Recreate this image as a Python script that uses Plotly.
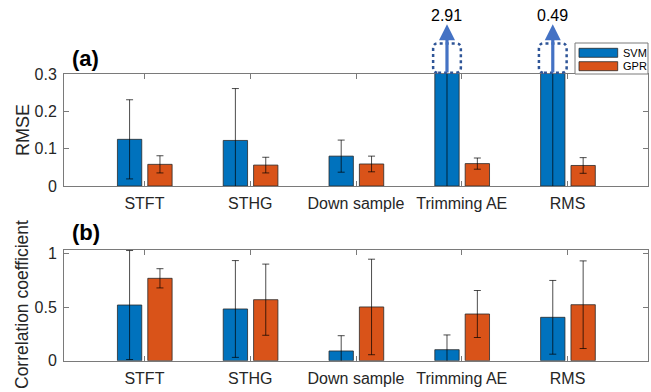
import plotly.graph_objects as go

categories = ["STFT", "STHG", "Down sample", "Trimming AE", "RMS"]
rmse_svm = [0.125, 0.122, 0.080, 2.91, 0.49]
rmse_svm_err = [0.106, 0.139, 0.043, 3.2, 0.6]
rmse_gpr = [0.058, 0.056, 0.059, 0.060, 0.055]
rmse_gpr_err = [0.023, 0.021, 0.021, 0.015, 0.021]
cc_svm = [0.521, 0.484, 0.091, 0.103, 0.406]
cc_svm_err = [0.51, 0.453, 0.143, 0.138, 0.345]
cc_gpr = [0.771, 0.571, 0.503, 0.437, 0.524]
cc_gpr_err = [0.09, 0.333, 0.447, 0.22, 0.41]
clipped_labels = ["2.91", "0.49"]
clipped_idx = [3, 4]

W, H = 651, 392
XR = [0.24, 5.76]
XD = [64 / W, 648 / W]
YD1 = [1 - 186 / H, 1 - 74 / H]
YD2 = [1 - 360.7 / H, 1 - 250 / H]
YR1 = [0, 0.3]
YR2 = [0, 1.036]

BLUE = "#0072BD"
ORANGE = "#D95319"
BW = 0.23
OFF_SVM = -0.255
OFF_GPR = 0.032
FONT = "Liberation Sans, Arial, sans-serif"

xs = list(range(1, len(categories) + 1))


def xp(v):
    return XD[0] + (v - XR[0]) / (XR[1] - XR[0]) * (XD[1] - XD[0])


def yp1(v):
    return YD1[0] + (v - YR1[0]) / (YR1[1] - YR1[0]) * (YD1[1] - YD1[0])


fig = go.Figure()


def add_bars(vals, errs, off, color, name, xa, ya):
    fig.add_trace(go.Bar(
        x=xs, y=vals, width=BW, offset=off, name=name,
        marker=dict(color=color, line=dict(color="#2a2a2a", width=0.8)),
        error_y=dict(type="data", array=errs, visible=True,
                     color="rgba(0,0,0,0.7)", thickness=1, width=3.5),
        xaxis=xa, yaxis=ya, showlegend=False,
    ))


add_bars(rmse_svm, rmse_svm_err, OFF_SVM, BLUE, "SVM", "x", "y")
add_bars(rmse_gpr, rmse_gpr_err, OFF_GPR, ORANGE, "GPR", "x", "y")
add_bars(cc_svm, cc_svm_err, OFF_SVM, BLUE, "SVM", "x2", "y2")
add_bars(cc_gpr, cc_gpr_err, OFF_GPR, ORANGE, "GPR", "x2", "y2")

axcommon = dict(showline=True, mirror="ticks", linecolor="#7a7a7a", linewidth=1,
                ticks="inside", ticklen=5, tickcolor="#7a7a7a", showgrid=False,
                zeroline=False, tickfont=dict(family=FONT, size=16, color="#262626"))

fig.update_layout(
    width=W, height=H, margin=dict(l=0, r=0, t=0, b=0),
    paper_bgcolor="white", plot_bgcolor="white", barmode="overlay",
    xaxis=dict(domain=XD, range=XR, tickvals=xs, ticktext=categories,
               anchor="y", ticklabelstandoff=3, automargin=False, **axcommon),
    yaxis=dict(domain=YD1, range=YR1, tickvals=[0, 0.1, 0.2, 0.3],
               ticktext=["0", "0.1", "0.2", "0.3"], anchor="x",
               ticklabelstandoff=3, automargin=False, **axcommon),
    xaxis2=dict(domain=XD, range=XR, tickvals=xs, ticktext=categories,
                anchor="y2", ticklabelstandoff=3, automargin=False, **axcommon),
    yaxis2=dict(domain=YD2, range=YR2, tickvals=[0, 0.5, 1],
                ticktext=["0", "0.5", "1"], anchor="x2",
                ticklabelstandoff=3, automargin=False, **axcommon),
    showlegend=False,
)

ann = []
# panel labels
ann.append(dict(text="<b>(a)</b>", x=70 / W, y=1 - 59 / H, xref="paper", yref="paper",
                xanchor="left", yanchor="middle", showarrow=False,
                font=dict(family=FONT, size=22, color="black")))
ann.append(dict(text="<b>(b)</b>", x=70 / W, y=1 - 232 / H, xref="paper", yref="paper",
                xanchor="left", yanchor="middle", showarrow=False,
                font=dict(family=FONT, size=22, color="black")))
# y titles
ann.append(dict(text="RMSE", x=23 / W, y=(YD1[0] + YD1[1]) / 2, xref="paper", yref="paper",
                textangle=-90, showarrow=False, xanchor="center", yanchor="middle",
                font=dict(family=FONT, size=18, color="#262626")))
ann.append(dict(text="Correlation coefficient", x=22 / W, y=1 - 305 / H,
                xref="paper", yref="paper", textangle=-90, showarrow=False,
                xanchor="center", yanchor="middle",
                font=dict(family=FONT, size=17.5, color="#262626")))

shapes = []
svm_c = OFF_SVM + BW / 2
rx, ry = 5 / W, 5 / H
for lab, i in zip(clipped_labels, clipped_idx):
    xc = xs[i] + svm_c
    # arrow
    ann.append(dict(x=xc, y=yp1(0.433), xref="x", yref="paper", ax=0,
                    ay=(yp1(0.433) - yp1(0.3)) * H, axref="pixel", ayref="pixel",
                    showarrow=True, arrowhead=2, arrowsize=1, arrowwidth=3.2,
                    arrowcolor="#4472C4", text=""))
    ann.append(dict(x=xc, y=yp1(0.458), xref="x", yref="paper", text=lab,
                    showarrow=False, xanchor="center", yanchor="middle",
                    font=dict(family=FONT, size=16, color="black")))
    # dotted rounded rectangle
    x0, x1 = xp(xc - 0.131), xp(xc + 0.131)
    y0, y1 = yp1(0.3035), yp1(0.382)
    path = (f"M{x0 + rx},{y0} L{x1 - rx},{y0} Q{x1},{y0} {x1},{y0 + ry} "
            f"L{x1},{y1 - ry} Q{x1},{y1} {x1 - rx},{y1} L{x0 + rx},{y1} "
            f"Q{x0},{y1} {x0},{y1 - ry} L{x0},{y0 + ry} Q{x0},{y0} {x0 + rx},{y0} Z")
    shapes.append(dict(type="path", path=path, xref="paper", yref="paper",
                       line=dict(color="#2F5597", width=2.5, dash="dot")))

# manual legend
shapes.append(dict(type="rect", xref="paper", yref="paper", x0=575 / W, x1=648 / W,
                   y0=1 - 74 / H, y1=1 - 43 / H, line=dict(color="#7a7a7a", width=1),
                   fillcolor="white"))
for j, (nm, col) in enumerate([("SVM", BLUE), ("GPR", ORANGE)]):
    top = 48.3 + j * 13.4
    shapes.append(dict(type="rect", xref="paper", yref="paper", x0=579 / W, x1=617.7 / W,
                       y0=1 - (top + 9) / H, y1=1 - top / H,
                       line=dict(color="#2a2a2a", width=0.8), fillcolor=col))
    ann.append(dict(text=nm, x=621 / W, y=1 - (top + 4.5) / H, xref="paper", yref="paper",
                    xanchor="left", yanchor="middle", showarrow=False,
                    font=dict(family=FONT, size=11, color="black")))

fig.update_layout(annotations=ann, shapes=shapes)
fig.write_html("out.html")
